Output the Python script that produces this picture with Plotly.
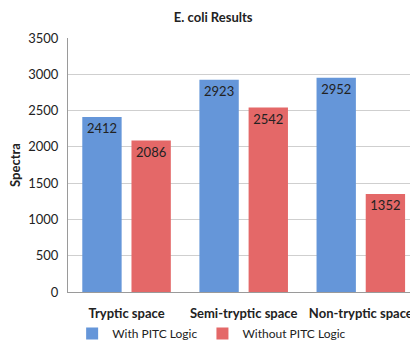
import plotly.graph_objects as go

categories = ["Tryptic space", "Semi-tryptic space", "Non-tryptic space"]
with_pitc = [2412, 2923, 2952]
without_pitc = [2086, 2542, 1352]
series_names = ["With PITC Logic", "Without PITC Logic"]

FONT = "Lato, Open Sans, sans-serif"

fig = go.Figure()
fig.add_trace(go.Bar(
    x=categories, y=with_pitc, name=series_names[0],
    marker=dict(color="#6596d9", line=dict(width=0)),
    text=[str(v) for v in with_pitc], textposition="inside",
    insidetextanchor="end", textangle=0,
    textfont=dict(family=FONT, size=13, color="#222222"),
))
fig.add_trace(go.Bar(
    x=categories, y=without_pitc, name=series_names[1],
    marker=dict(color="#e46868", line=dict(width=0)),
    text=[str(v) for v in without_pitc], textposition="inside",
    insidetextanchor="end", textangle=0,
    textfont=dict(family=FONT, size=13, color="#222222"),
))

fig.update_layout(
    width=410, height=341,
    margin=dict(l=68, r=0, t=38, b=49, autoexpand=False),
    paper_bgcolor="white", plot_bgcolor="white",
    font=dict(family=FONT, size=12, color="#222222"),
    title=dict(text="<b>E. coli Results</b>", x=0.52, xanchor="center",
               y=0.95, yanchor="middle", font=dict(size=13, family=FONT)),
    barmode="group", bargap=0.16, bargroupgap=0.2,
    showlegend=True,
    legend=dict(orientation="h", x=0.42, xanchor="center",
                y=-0.163, yanchor="middle",
                bgcolor="rgba(0,0,0,0)",
                font=dict(size=12, family=FONT),
                itemwidth=30, traceorder="normal"),
)
fig.update_xaxes(
    range=[-0.5, 2.42], showline=True, linecolor="#9a9a9a", linewidth=1,
    showgrid=False, ticks="", tickfont=dict(size=13, family=FONT),
    tickprefix="<b>", ticksuffix="</b>", automargin=False,
    ticklabelstandoff=9,
)
fig.update_yaxes(
    range=[0, 3500], dtick=500, showline=True, linecolor="#9a9a9a",
    linewidth=1, showgrid=True, gridcolor="#cfcfcf", gridwidth=1,
    zeroline=False, ticks="", tickfont=dict(size=13, family=FONT),
    ticklabelstandoff=6, automargin=False,
    title=dict(text="<b>Spectra</b>", font=dict(size=13, family=FONT), standoff=4),
)

fig.write_html("out.html", config={"displayModeBar": False},
               post_script="document.body.style.margin='0';document.body.style.overflow='hidden';")
